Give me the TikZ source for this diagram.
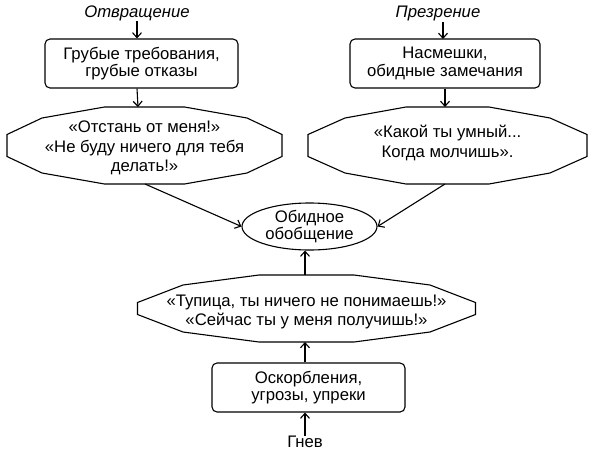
\documentclass[tikz,border=0pt]{standalone}
\usepackage{fontspec}
\setmainfont{Liberation Sans}
\usetikzlibrary{arrows.meta,shapes.geometric}
\newcommand\octpoly[8]{%
 \draw[shapeline] (#1-#3,#2-#6) -- (#1+#3,#2-#6) -- (#1+#4,#2-#7) -- (#1+#5,#2-#8) -- (#1+#5,#2+#8) -- (#1+#4,#2+#7) -- (#1+#3,#2+#6) -- (#1-#3,#2+#6) -- (#1-#4,#2+#7) -- (#1-#5,#2+#8) -- (#1-#5,#2-#8) -- (#1-#4,#2-#7) -- cycle;}
\begin{document}
\begin{tikzpicture}[x=1pt,y=-1pt,
  every node/.style={font=\fontsize{16.7}{17.5}\selectfont, align=center, inner sep=0pt},
  shapeline/.style={line width=1.1pt},
  boxnode/.style={draw, line width=1.1pt, rounded corners=5pt, minimum width=193pt, minimum height=49pt},
  octtext/.style={font=\fontsize{16.7}{19.5}\selectfont},
  lbl/.style={font=\fontsize{16.7}{17.5}\selectfont\itshape},
  arr/.style={-{Straight Barb[length=5pt,width=9pt]}, line width=1.1pt}]
\useasboundingbox (0,0) rectangle (591,450);
% labels
\node[lbl] (l1) at (137,13) {Отвращение};
\node[lbl] (l2) at (438,13) {Презрение};
\node (g) at (305,442) {Гнев};
% boxes
\node[boxnode] (b1) at (141.5,63.5) {Грубые требования,\\грубые отказы};
\node[boxnode, minimum width=190pt] (b2) at (445,63.5) {Насмешки,\\обидные замечания};
\node[boxnode] (b3) at (308.5,387.5) {Оскорбления,\\угрозы, упреки};
% ellipse
\node[draw, ellipse, line width=1.1pt, minimum width=135pt, minimum height=47pt] (e) at (309.5,226.5) {Обидное\\обобщение};
% octagons
\node[octtext] (o1) at (144.5,148) {«Отстань от меня!»\\«Не буду ничего для тебя\\делать!»};
\octpoly{144.5}{145.5}{40}{102.5}{137.5}{38.5}{27.5}{11}
\node[octtext] (o2) at (447.5,143) {«Какой ты умный...\\Когда молчишь».};
\octpoly{447.5}{145.5}{41.5}{102.5}{139.5}{38.5}{27.5}{11}
\node[octtext] (o3) at (306.5,312) {«Тупица, ты ничего не понимаешь!»\\«Сейчас ты у меня получишь!»};
\octpoly{306.5}{308.5}{47.5}{123.5}{169}{33.5}{23.5}{6}
% connector end points on octagon edges
\coordinate (o1t) at (138,107);
\coordinate (o1b) at (145,184);
\coordinate (o2t) at (445,107);
\coordinate (o2b) at (445,184);
\coordinate (o3t) at (305,275);
\coordinate (o3b) at (305,342);
% connectors
\draw[arr] (l1.south) -- (l1.south |- b1.north);
\draw[arr] (l1.south |- b1.south) -- (o1t);
\draw[arr] (443,22) -- (443,39);
\draw[arr] (b2.south) -- (o2t);
\draw[arr] (o1b) -- (e.west);
\draw[arr] (o2b) -- (e.east);
\draw[arr] (o3t) -- (o3t |- e.south);
\draw[arr] (o3b |- b3.north) -- (o3b);
\draw[arr] (g.north) -- (g.north |- b3.south);
\end{tikzpicture}
\end{document}
